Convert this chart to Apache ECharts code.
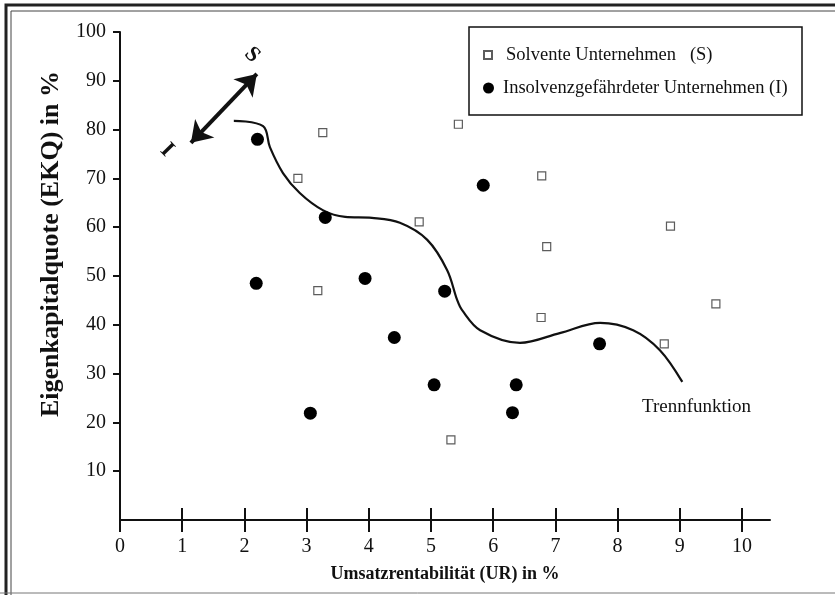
<!DOCTYPE html>
<html>
<head>
<meta charset="utf-8">
<script src="https://cdn.jsdelivr.net/npm/echarts@6/dist/echarts.min.js"></script>
<style>
  html, body { margin: 0; padding: 0; background: #fff; }
  #main { width: 835px; height: 595px; }
</style>
</head>
<body>
<div id="main"></div>
<script>
// Umsatzrentabilitaet (x) / Eigenkapitalquote (y)
var xTicks = [0, 1, 2, 3, 4, 5, 6, 7, 8, 9, 10];
var solventeUR  = [3.26, 2.86, 4.81, 3.18, 5.44, 6.78, 6.86, 8.85, 9.58, 6.77, 8.75, 5.32];
var solventeEKQ = [79.4, 70.0, 61.1, 47.0, 81.1, 70.5, 56.0, 60.2, 44.3, 41.5, 36.1, 16.4];
var insolvUR    = [2.21, 2.19, 3.30, 3.06, 3.94, 4.41, 5.22, 5.05, 5.84, 6.37, 6.31, 7.71];
var insolvEKQ   = [78.0, 48.5, 62.0, 21.9, 49.5, 37.4, 46.9, 27.7, 68.6, 27.7, 22.0, 36.1];
var trennUR  = [1.83, 2.30, 2.41, 2.62, 2.89, 3.26, 3.62, 4.05, 4.50, 4.94, 5.26, 5.42, 5.50, 5.79, 6.43, 7.07, 7.72, 8.25, 8.68, 9.04];
var trennEKQ = [81.8, 80.7, 76.4, 71.1, 67.0, 63.5, 62.1, 61.9, 60.9, 57.4, 51.2, 45.1, 43.0, 38.9, 36.3, 38.3, 40.4, 38.9, 34.8, 28.3];
var arrowUR  = [1.14, 2.20];
var arrowEKQ = [77.3, 91.4];

var nameS = 'Solvente Unternehmen   (S)';
var nameI = 'Insolvenzgefährdeter Unternehmen (I)';
var serif = 'Liberation Serif';

function pairs(xs, ys) {
  return xs.map(function (x, i) { return [x, ys[i]]; });
}

var chartDom = document.getElementById('main');
var myChart = echarts.init(chartDom);
var option;

option = {
  animation: false,
  backgroundColor: '#fff',
  textStyle: { fontFamily: serif, color: '#111' },
  grid: { left: 120, right: 65, top: 32, bottom: 75 },
  legend: [
    {
      data: [{ name: nameS, icon: 'rect' }],
      left: 483, top: 45, padding: 0,
      itemWidth: 8, itemHeight: 8,
      textStyle: { fontFamily: serif, fontSize: 18.5, color: '#111', lineHeight: 20, padding: [0, 0, 0, 9] }
    },
    {
      data: [{ name: nameI, icon: 'circle' }],
      left: 483, top: 78, padding: 0,
      itemWidth: 11, itemHeight: 11,
      textStyle: { fontFamily: serif, fontSize: 18.5, color: '#111', lineHeight: 20, padding: [0, 0, 0, 4] }
    }
  ],
  xAxis: [
    {
      type: 'value', min: 0, max: 10.45, interval: 1,
      name: 'Umsatzrentabilität (UR) in %',
      nameLocation: 'middle', nameGap: 45,
      nameTextStyle: { fontFamily: serif, fontSize: 18, fontWeight: 'bold', color: '#111' },
      axisLine: { lineStyle: { color: '#111', width: 2 } },
      axisTick: { length: 12, lineStyle: { color: '#111', width: 2 }, customValues: xTicks },
      axisLabel: { margin: 17, fontSize: 20, color: '#111', fontFamily: serif, customValues: xTicks },
      splitLine: { show: false }
    },
    {
      type: 'value', min: 0, max: 10.45, interval: 1, position: 'bottom',
      axisLine: { show: false },
      axisTick: { inside: true, length: 12, lineStyle: { color: '#111', width: 2 }, customValues: xTicks },
      axisLabel: { show: false },
      splitLine: { show: false }
    }
  ],
  yAxis: {
    type: 'value', min: 0, max: 100, interval: 10,
    name: 'Eigenkapitalquote (EKQ) in %',
    nameLocation: 'middle', nameGap: 56,
    nameTextStyle: { fontFamily: serif, fontSize: 26, fontWeight: 'bold', color: '#111', padding: [0, 0, 0, 64] },
    axisLine: { lineStyle: { color: '#111', width: 2 } },
    axisTick: { length: 7, lineStyle: { color: '#111', width: 2 } },
    axisLabel: { margin: 14, fontSize: 20, color: '#111', fontFamily: serif, showMinLabel: false },
    splitLine: { show: false }
  },
  series: [
    {
      name: 'Trennfunktion',
      type: 'line',
      data: pairs(trennUR, trennEKQ),
      smooth: 0.35,
      showSymbol: false,
      lineStyle: { color: '#111', width: 2.2 },
      z: 2
    },
    {
      name: nameS,
      type: 'scatter',
      data: pairs(solventeUR, solventeEKQ),
      symbol: 'rect',
      symbolSize: 8,
      itemStyle: { color: '#fff', borderColor: '#333', borderWidth: 1.2 },
      z: 3
    },
    {
      name: nameI,
      type: 'scatter',
      data: pairs(insolvUR, insolvEKQ),
      symbol: 'circle',
      symbolSize: 13,
      itemStyle: { color: '#000', opacity: 1 },
      z: 3
    },
    {
      type: 'lines',
      coordinateSystem: 'cartesian2d',
      data: [{ coords: pairs(arrowUR, arrowEKQ) }],
      symbol: ['arrow', 'arrow'],
      symbolSize: 20,
      lineStyle: { color: '#111', width: 4, opacity: 1 },
      z: 3
    }
  ],
  graphic: [
    // frame of the scanned figure
    { type: 'polyline', shape: { points: [[6, 595], [6, 5], [835, 5]] }, style: { stroke: '#222', lineWidth: 3, fill: null } },
    { type: 'polyline', shape: { points: [[11, 595], [11, 11], [835, 11]] }, style: { stroke: '#444', lineWidth: 1, fill: null } },
    { type: 'line', shape: { x1: 0, y1: 593, x2: 835, y2: 593 }, style: { stroke: '#777', lineWidth: 1 } },
    // legend box
    { type: 'rect', shape: { x: 469, y: 27, width: 333, height: 88 }, style: { stroke: '#111', lineWidth: 1.5, fill: null } },
    // annotations
    { type: 'text', x: 642, y: 407, style: { text: 'Trennfunktion', fontFamily: serif, fontSize: 19, fill: '#111', verticalAlign: 'middle' } },
    { type: 'text', x: 252, y: 55, rotation: -0.8, style: { text: 'S', fontFamily: serif, fontSize: 22, fontWeight: 'bold', fill: '#111', align: 'center', verticalAlign: 'middle' } },
    { type: 'text', x: 167, y: 150, rotation: -0.8, style: { text: 'I', fontFamily: serif, fontSize: 23, fontWeight: 'bold', fill: '#111', align: 'center', verticalAlign: 'middle' } }
  ]
};

option && myChart.setOption(option);
</script>
</body>
</html>
